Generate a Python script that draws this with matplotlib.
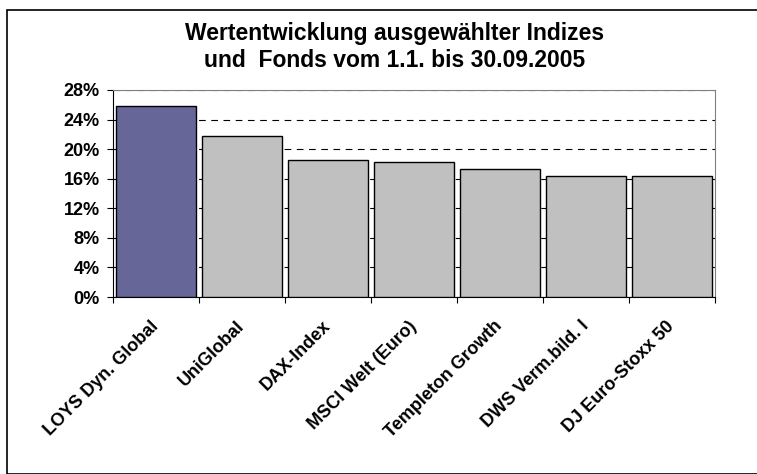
import matplotlib.pyplot as plt
from matplotlib.patches import Rectangle
from matplotlib.ticker import FuncFormatter, MultipleLocator
from matplotlib.transforms import ScaledTranslation

plt.rcParams["font.family"] = ["Liberation Sans", "DejaVu Sans"]

# data
funds = ["LOYS Dyn. Global", "UniGlobal", "DAX-Index", "MSCI Welt (Euro)",
         "Templeton Growth", "DWS Verm.bild. I", "DJ Euro-Stoxx 50"]
performance = [25.8, 21.8, 18.5, 18.2, 17.3, 16.3, 16.3]
bar_colors = ["#666699"] + ["#C0C0C0"] * 6

fig = plt.figure(figsize=(7.57, 4.74), dpi=100)
ax = fig.add_axes([113 / 757, 1 - 297 / 474, (715 - 113) / 757, (297 - 90) / 474])

x = list(range(len(funds)))
ax.bar(x, performance, width=0.92, color=bar_colors, edgecolor="black",
       linewidth=1.0, zorder=3)

ax.set_xlim(-0.5, len(funds) - 0.5)
ax.set_ylim(0, 28)
ax.yaxis.set_major_locator(MultipleLocator(4))
ax.yaxis.set_major_formatter(FuncFormatter(lambda v, p: f"{v:.0f}%"))
ax.grid(axis="y", color="black", linestyle=(0, (6, 5)), linewidth=0.8, zorder=0)

# category boundary ticks on x, names centred under bars
ax.set_xticks([i - 0.5 for i in range(len(funds) + 1)])
ax.set_xticklabels([])
ax.set_xticks(x, minor=True)
ax.set_xticklabels(funds, minor=True, rotation=45, ha="right", va="top",
                   rotation_mode="anchor", fontsize=13, fontweight="bold")
ax.tick_params(axis="x", which="minor", length=0, pad=15)
ax.tick_params(axis="x", which="major", length=4, direction="out")
ax.tick_params(axis="y", length=4.5, pad=5, direction="out", labelsize=13)
shift = ScaledTranslation(-6 / 100, 0, fig.dpi_scale_trans)
for lab in ax.get_xticklabels(minor=True):
    lab.set_transform(lab.get_transform() + shift)
for lab in ax.get_yticklabels():
    lab.set_fontweight("bold")

for side in ["top", "right"]:
    ax.spines[side].set_color("#808080")
for side in ["left", "bottom"]:
    ax.spines[side].set_color("black")

fig.text(395 / 757, 1 - 47 / 474,
         "Wertentwicklung ausgewählter Indizes\nund  Fonds vom 1.1. bis 30.09.2005",
         ha="center", va="center", fontsize=16.5, fontweight="bold",
         linespacing=1.25)

# outer chart border
fig.patches.append(Rectangle((7 / 757, 0), 1, 1 - 10 / 474, transform=fig.transFigure,
                             fill=False, edgecolor="black", linewidth=1.2))

fig.savefig("out.png", dpi=100)
